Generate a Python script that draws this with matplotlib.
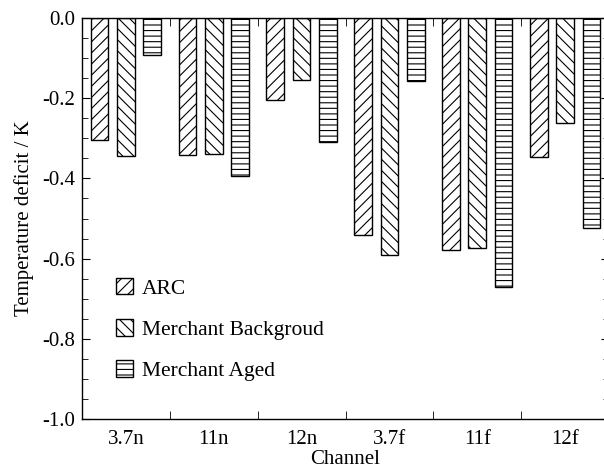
import numpy as np
import matplotlib
matplotlib.use('Agg')
import matplotlib.pyplot as plt

channels = ['3.7n', '11n', '12n', '3.7f', '11f', '12f']
arc = [-0.305, -0.342, -0.204, -0.542, -0.578, -0.347]
merchant_bg = [-0.345, -0.339, -0.155, -0.591, -0.573, -0.261]
merchant_aged = [-0.092, -0.393, -0.310, -0.157, -0.671, -0.524]

series_names = ['ARC', 'Merchant Backgroud', 'Merchant Aged']
hatches = ['///', '\\\\\\', '---']
ytick_vals = [-1.0, -0.8, -0.6, -0.4, -0.2, 0.0]
ytick_labels = ['-1.0', '-0.8', '-0.6', '-0.4', '-0.2', '0.0']

plt.rcParams['font.family'] = ['Liberation Serif', 'DejaVu Serif']
plt.rcParams['hatch.linewidth'] = 0.8
plt.rcParams['hatch.color'] = 'black'

fig = plt.figure(figsize=(6.04, 4.70), dpi=100)
ax = fig.add_axes([82 / 604, 1 - 419 / 470, 527 / 604, 401 / 470])

x = np.arange(len(channels))
width = 0.2
offsets = [-0.3, 0.0, 0.3]
for vals, name, h, off in zip([arc, merchant_bg, merchant_aged], series_names, hatches, offsets):
    ax.bar(x + off, vals, width, fill=False, hatch=h, edgecolor='black',
           linewidth=1.0, label=name)

ax.set_xlim(-0.5, len(channels) - 0.5)
ax.set_ylim(-1.0, 0.0)

# labels at centres, tick marks at group boundaries
ax.set_xticks(x)
ax.set_xticklabels(channels)
ax.set_xticks(np.arange(len(channels) - 1) + 0.5, minor=True)
ax.tick_params(axis='x', which='major', length=0, labelsize=15, pad=8)
ax.tick_params(axis='x', which='minor', direction='in', length=6, top=True, bottom=True)

ax.set_yticks(ytick_vals)
ax.set_yticklabels(ytick_labels)
ax.set_yticks(np.arange(-1.0, 0.01, 0.05), minor=True)
ax.tick_params(axis='y', which='major', direction='in', length=6, left=True, right=True,
               labelsize=15, pad=5)
ax.tick_params(axis='y', which='minor', direction='in', length=4, left=True, right=True)

for s in ax.spines.values():
    s.set_linewidth(1.0)

ax.set_xlabel('Channel', fontsize=15, labelpad=1)
ax.set_ylabel('Temperature deficit / K', fontsize=15, labelpad=6)

ax.legend(loc='upper left', bbox_to_anchor=(116 / 604, 1 - 278 / 470),
          bbox_transform=fig.transFigure, frameon=False, fontsize=15.5,
          handlelength=0.8, handleheight=0.8, handletextpad=0.4,
          labelspacing=0.95, borderpad=0, borderaxespad=0)

fig.savefig('out.png', dpi=100)
